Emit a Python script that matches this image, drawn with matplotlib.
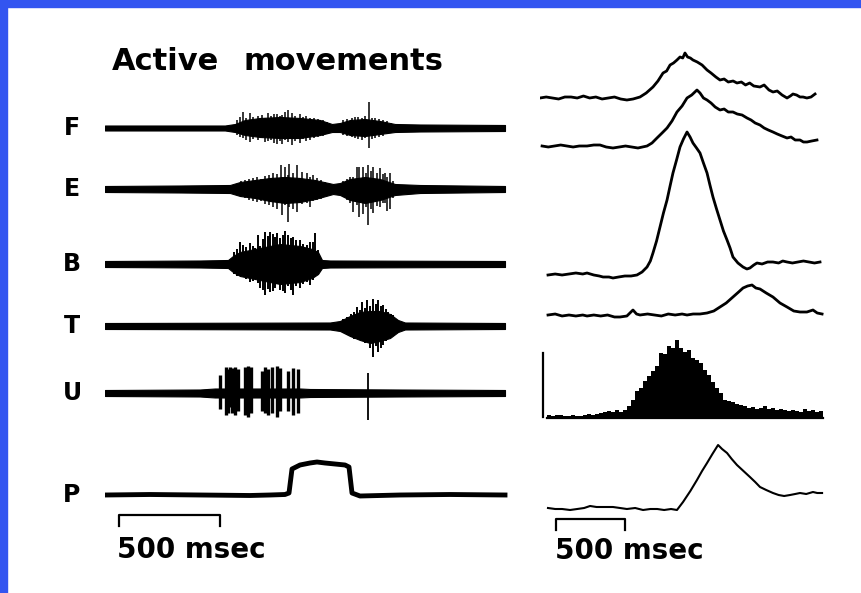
import numpy as np
import matplotlib.pyplot as plt
from matplotlib.patches import Rectangle

# ---- left column: raw EMG (time in ms, amplitude in px-like units) ----
F_env_t = [0, 600, 650, 700, 775, 875, 975, 1075, 1135, 1175, 1225, 1300, 1375, 1450, 1575, 2000]
F_env_up = [2.5, 2.5, 4, 8, 10, 11, 10, 8, 4, 5, 8, 9, 7, 4, 3.5, 3]
F_env_dn = [2.5, 2.5, 4, 7, 9, 10, 10, 7, 4, 4, 7, 8, 6, 4, 3.5, 3]
F_sp_t = [660, 675, 690, 705, 725, 740, 765, 785, 800, 815, 830, 845, 860, 875, 885, 900, 915, 935, 950, 975,
          990, 1005, 1025, 1045, 1065, 1090, 1110, 1190, 1210, 1235, 1250, 1265, 1285, 1300, 1320, 1335, 1350,
          1370, 1390, 1410, 1430]
F_sp_up = [8, 11, 16, 10, 15, 11, 12, 13, 10, 15, 12, 14, 14, 12, 13, 16, 18, 15, 12, 14,
           11, 12, 10, 10, 9, 8, 6, 8, 9, 10, 11, 11, 10, 12, 26, 10, 10, 9, 8, 7, 5]
F_sp_dn = [7, 9, 10, 12, 14, 11, 12, 10, 14, 13, 12, 15, 16, 13, 16, 12, 14, 17, 13, 15,
           11, 13, 12, 10, 9, 8, 6, 7, 8, 9, 10, 11, 12, 10, 20, 11, 10, 9, 8, 6, 5]

E_env_t = [0, 375, 625, 675, 750, 825, 900, 975, 1050, 1140, 1175, 1225, 1300, 1375, 1450, 1575, 2000]
E_env_up = [3, 3.5, 4, 7, 9, 11, 12, 11, 9, 5, 6, 10, 12, 10, 5, 4, 3]
E_env_dn = [3, 3.5, 4, 7, 9, 12, 14, 13, 10, 5, 6, 11, 14, 11, 6, 4, 3]
E_sp_t = [680, 700, 720, 740, 760, 780, 800, 820, 840, 860, 880, 885, 900, 915, 920, 940, 960, 985, 1010, 1025,
          1040, 1060, 1080, 1100, 1190, 1210, 1225, 1240, 1260, 1270, 1290, 1305, 1315, 1330, 1340, 1360, 1375,
          1390, 1400, 1410, 1425, 1440]
E_sp_up = [8, 9, 10, 11, 12, 10, 13, 14, 16, 15, 24, 12, 22, 14, 25, 16, 24, 17, 16, 12,
           14, 11, 9, 7, 8, 10, 12, 12, 22, 22, 22, 16, 24, 18, 22, 16, 21, 15, 16, 12, 16, 8]
E_sp_dn = [8, 9, 11, 12, 13, 12, 15, 16, 18, 20, 14, 26, 16, 33, 18, 20, 23, 15, 14, 18,
           12, 11, 10, 7, 8, 11, 14, 23, 16, 28, 25, 18, 36, 20, 24, 17, 18, 14, 14, 22, 20, 9]

B_env_t = [0, 475, 615, 640, 675, 725, 800, 875, 975, 1035, 1065, 1085, 1125, 2000]
B_env_up = [3, 3.5, 4, 8, 12, 14, 17, 20, 18, 15, 12, 4, 3.5, 3]
B_env_dn = [3, 3.5, 4, 8, 12, 14, 17, 20, 18, 14, 10, 4, 3.5, 3]
B_sp_t = [645, 660, 675, 690, 705, 725, 740, 750, 765, 775, 790, 800, 815, 825, 840, 850, 860, 875, 890, 900,
          915, 930, 940, 955, 975, 990, 1010, 1025, 1040, 1050, 1065]
B_sp_up = [12, 15, 22, 19, 17, 21, 18, 16, 29, 18, 25, 32, 28, 32, 30, 27, 31, 26, 29, 33,
           29, 26, 27, 24, 24, 20, 19, 22, 22, 31, 14]
B_sp_dn = [10, 12, 12, 12, 15, 18, 17, 14, 19, 24, 26, 31, 25, 28, 27, 24, 20, 26, 27, 29,
           22, 26, 31, 22, 24, 20, 18, 21, 16, 12, 10]

T_env_t = [0, 1125, 1175, 1225, 1275, 1325, 1375, 1425, 1465, 1500, 2000]
T_env_up = [3, 3.5, 5, 10, 14, 15, 15, 12, 6, 3.5, 3]
T_env_dn = [3, 3.5, 5, 10, 14, 17, 15, 12, 6, 3.5, 3]
T_sp_t = [1190, 1210, 1230, 1245, 1260, 1275, 1285, 1300, 1310, 1325,
          1340, 1355, 1365, 1380, 1390, 1405, 1415, 1430, 1440, 1455]
T_sp_up = [7, 9, 12, 14, 19, 16, 24, 18, 26, 20, 27, 22, 26, 20, 21, 17, 14, 12, 11, 7]
T_sp_dn = [7, 9, 11, 13, 10, 14, 12, 17, 14, 22, 31, 20, 26, 22, 19, 15, 12, 10, 8, 6]

U_env_t = [0, 475, 550, 975, 1025, 1475, 2000]
U_env_up = [3, 3.5, 4.5, 4.5, 4, 3.5, 3]
U_env_dn = [3, 3.5, 4.5, 4.5, 4, 3.5, 3]
U_sp_t = [575, 605, 615, 625, 635, 650, 665, 700, 715, 730, 785, 800, 815, 835, 860, 875, 915, 940, 965]
U_sp_up = [18, 26, 24, 26, 25, 26, 24, 26, 27, 26, 22, 26, 24, 26, 27, 25, 22, 25, 24]
U_sp_dn = [16, 22, 20, 14, 20, 22, 18, 22, 24, 20, 18, 20, 22, 20, 24, 18, 18, 22, 20]
U_single_t = [1315]
U_single_up = [20]
U_single_dn = [27]

P_t = [0, 225, 475, 725, 825, 900, 920, 935, 975, 1025, 1060, 1100, 1150, 1200, 1220, 1235, 1275, 1475, 1725, 2000]
P_amp = [0, 0.5, 0, -0.5, 0, 0.5, 2, 26, 30, 32, 33, 32, 31, 30, 28, 2, -1, 0, 0.5, 0]

# ---- right column: averaged / rectified (time in ms) ----
R1_t = [0, 45, 90, 135, 180, 225, 270, 315, 360, 405, 450, 495, 540, 585, 630, 675, 725, 770, 819, 855,
        892, 918, 943, 968, 993, 1015, 1035, 1051, 1070, 1090, 1109, 1140, 1175, 1211, 1240, 1275, 1305, 1335,
        1365, 1400, 1428, 1460, 1490, 1520, 1550, 1595, 1625, 1660, 1689, 1720, 1755, 1791, 1815, 1834, 1860,
        1885, 1907, 1935, 1965, 1994]
R1_amp = [0, 1, 0, -1, 1, 1, 0, 2, 0, 1, -1, 0, 1, -1, -2, -1, 1, 5, 11, 17,
          25, 27, 33, 35, 38, 41, 40, 45, 41, 40, 38, 36, 33, 28, 25, 21, 18, 19,
          16, 17, 15, 16, 13, 15, 12, 11, 13, 8, 6, 7, 3, 0, 2, 4, 3,
          1, 1, 0, 1, 4]

R2_t = [15, 60, 105, 150, 195, 240, 285, 341, 390, 435, 480, 529, 575, 620, 665, 710, 776, 812, 848, 885,
        921, 957, 993, 1030, 1066, 1100, 1138, 1160, 1185, 1211, 1240, 1270, 1305, 1335, 1365, 1399, 1430,
        1465, 1501, 1530, 1560, 1595, 1625, 1655, 1689, 1720, 1755, 1791, 1820, 1850, 1885, 1910, 1936,
        1970, 2008]
R2_amp = [1, 0, 1, 2, 1, 0, 1, 1, 2, 2, 0, -1, 0, 1, 0, -1, 1, 4, 9, 14,
          19, 26, 35, 41, 49, 52, 57, 54, 49, 47, 44, 40, 37, 38, 35, 35, 33,
          32, 29, 27, 24, 22, 19, 17, 15, 13, 11, 9, 10, 7, 7, 5, 5,
          6, 7]

R3_t = [58, 110, 160, 210, 260, 310, 341, 390, 430, 457, 500, 529, 570, 615, 660, 703, 740, 776, 800, 819,
        845, 870, 895, 921, 943, 964, 990, 1015, 1040, 1066, 1088, 1109, 1135, 1160, 1185, 1211, 1232, 1254,
        1280, 1305, 1330, 1356, 1378, 1399, 1435, 1472, 1500, 1522, 1550, 1573, 1610, 1650, 1689, 1730, 1760,
        1791, 1830, 1870, 1910, 1950, 1990, 2030]
R3_amp = [0, 1, 0, 1, 2, 1, 2, 0, -1, -2, -2, -3, -2, -1, -1, 0, 3, 8, 14, 22,
          34, 48, 62, 75, 89, 102, 115, 128, 136, 143, 138, 132, 127, 122, 112, 102, 90, 78,
          66, 55, 44, 35, 27, 18, 12, 8, 6, 7, 10, 12, 11, 13, 13, 12, 14,
          13, 12, 13, 14, 13, 12, 13]

R4_t = [58, 110, 160, 210, 260, 310, 341, 390, 440, 490, 540, 580, 630, 674, 700, 725, 780, 830, 880, 930,
        980, 1030, 1066, 1110, 1160, 1211, 1260, 1305, 1350, 1399, 1440, 1472, 1505, 1537, 1565, 1595, 1640,
        1689, 1740, 1791, 1840, 1885, 1935, 1979, 2010, 2045]
R4_amp = [0, 1, -1, 0, -1, 0, -1, 0, -1, 0, -2, -2, -1, 5, 1, 0, 1, 0, -1, 1,
          0, 1, 0, 1, 1, 2, 4, 8, 12, 18, 23, 27, 29, 30, 27, 26, 22,
          18, 12, 8, 4, 3, 3, 5, 2, 1]

hist_counts = [3, 2, 3, 3, 2, 2, 3, 2, 2, 3, 4, 3, 4, 5, 6,
               7, 6, 8, 6, 8, 12,
               18, 27, 30, 37, 42, 47, 52, 65, 64, 72, 70, 78, 70, 66, 68, 60, 58, 55, 48,
               43, 36, 30, 25, 18, 17, 16, 14, 13, 12, 10, 11, 9, 10, 12, 9, 10, 8, 9, 8,
               7, 8, 7, 6, 9, 7, 8, 6, 7]

R6_t = [58, 110, 160, 218, 270, 320, 363, 410, 460, 529, 580, 630, 690, 747, 800, 850, 900, 950, 993, 1037,
        1090, 1138, 1175, 1211, 1250, 1291, 1320, 1356, 1390, 1428, 1475, 1522, 1560, 1595, 1640, 1689, 1730,
        1770, 1813, 1850, 1885, 1930, 1979, 2010, 2045]
R6_amp = [0, -1, -1, -2, -1, 0, 2, 1, 1, 1, 0, -1, 0, -2, -1, -1, -2, -1, -2, 6,
          17, 28, 37, 45, 54, 63, 59, 55, 49, 43, 37, 31, 26, 21, 18, 15, 13,
          12, 13, 14, 15, 14, 16, 15, 15]

W, H = 861, 593
fig = plt.figure(figsize=(W / 100, H / 100), dpi=100)
fig.patch.set_facecolor('white')

# blue frame strips
fig.patches.append(Rectangle((0, 0), 7 / W, 1, transform=fig.transFigure, color='#3355f0', zorder=0))
fig.patches.append(Rectangle((0, 1 - 7 / H), 1, 7 / H, transform=fig.transFigure, color='#3355f0', zorder=0))


def panel(x0, x1, ms_per_px):
    ax = fig.add_axes([x0 / W, 0, (x1 - x0) / W, 1])
    ax.set_xlim(0, (x1 - x0) * ms_per_px)
    ax.set_ylim(H, 0)
    ax.axis('off')
    return ax


left = panel(105, 510, 5.0)
right = panel(540, 830, 7.25)

bold = dict(fontweight='bold', family='DejaVu Sans', color='k')


def emg(ax, base, et, eu, ed, st, su, sd, lw=1.1):
    eu, ed, su, sd = map(np.asarray, (eu, ed, su, sd))
    ax.fill_between(et, base - eu, base + ed, color='k', lw=0.8)
    ax.vlines(st, base - su, base + sd, color='k', lw=lw)


rows = {'F': 128, 'E': 189, 'B': 264, 'T': 326, 'U': 393, 'P': 495}
emg(left, rows['F'], F_env_t, F_env_up, F_env_dn, F_sp_t, F_sp_up, F_sp_dn)
emg(left, rows['E'], E_env_t, E_env_up, E_env_dn, E_sp_t, E_sp_up, E_sp_dn)
emg(left, rows['B'], B_env_t, B_env_up, B_env_dn, B_sp_t, B_sp_up, B_sp_dn, lw=1.4)
emg(left, rows['T'], T_env_t, T_env_up, T_env_dn, T_sp_t, T_sp_up, T_sp_dn, lw=1.4)
emg(left, rows['U'], U_env_t, U_env_up, U_env_dn, U_sp_t, U_sp_up, U_sp_dn, lw=2.4)
left.vlines(U_single_t, rows['U'] - np.asarray(U_single_up), rows['U'] + np.asarray(U_single_dn),
            color='k', lw=1.3)
left.plot(P_t, rows['P'] - np.asarray(P_amp), color='k', lw=3.5, solid_joinstyle='round')

for name, y in rows.items():
    left.text(-165, y, name, ha='center', va='center', fontsize=17, **bold)

left.text(35, 62, 'Active', ha='left', va='center', fontsize=22, **bold)
left.text(690, 62, 'movements', ha='left', va='center', fontsize=22, **bold)

# scale bars
left.plot([70, 70, 575, 575], [526, 515, 515, 526], color='k', lw=1.6)
left.text(60, 550, '500 msec', ha='left', va='center', fontsize=20, **bold)

right.plot(R1_t, 98 - np.asarray(R1_amp), color='k', lw=2)
right.plot(R2_t, 147 - np.asarray(R2_amp), color='k', lw=2)
right.plot(R3_t, 275 - np.asarray(R3_amp), color='k', lw=2)
right.plot(R4_t, 315 - np.asarray(R4_amp), color='k', lw=2)

hist_base = 418
edges = 51 + 29 * np.arange(len(hist_counts))
right.bar(edges, -np.asarray(hist_counts), width=29, bottom=hist_base, align='edge', color='k', lw=0)
right.plot([51, 51 + 29 * len(hist_counts)], [hist_base, hist_base], color='k', lw=1.6)
right.plot([22, 22], [353, 417], color='k', lw=1.6)

right.plot(R6_t, 508 - np.asarray(R6_amp), color='k', lw=1.5)

right.plot([116, 116, 616, 616], [530, 519, 519, 530], color='k', lw=1.6)
right.text(109, 551, '500 msec', ha='left', va='center', fontsize=20, **bold)

fig.savefig('out.png', dpi=100, facecolor='white')
